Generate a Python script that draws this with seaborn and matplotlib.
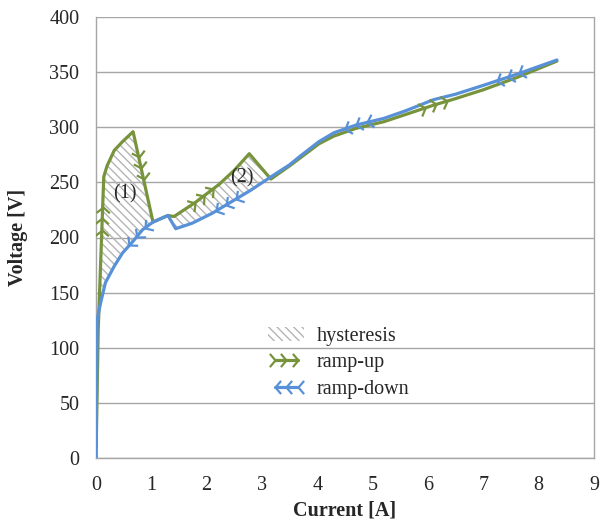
import numpy as np
import pandas as pd
import seaborn as sns
import matplotlib
matplotlib.use("Agg")
import matplotlib.pyplot as plt
from matplotlib.path import Path
from matplotlib.markers import MarkerStyle
from matplotlib.transforms import Affine2D
from matplotlib.lines import Line2D
from matplotlib.patches import Patch

# ---------------- data ----------------
up_current = [0, 0.04, 0.14, 0.20, 0.33, 0.48, 0.67, 1.03, 1.30, 1.41, 1.80, 2.22, 2.50, 2.77, 3.16,
              3.50, 4.03, 4.30, 4.70, 5.20, 6.10, 6.50, 7.00, 7.60, 8.33]
up_voltage = [0, 116, 255, 265, 279, 287, 296, 214, 220, 219, 232, 248, 261, 276, 253,
              265, 285, 292, 299, 305, 320, 326, 334, 345, 360]

down_current = [0, 0.02, 0.08, 0.17, 0.33, 0.48, 0.66, 0.84, 1.03, 1.30, 1.44, 1.74, 2.10, 2.50, 2.80,
                3.13, 3.50, 3.67, 4.03, 4.30, 4.70, 5.20, 5.60, 6.10, 6.50, 7.00, 7.60, 8.33]
down_voltage = [0, 125, 140, 159, 174, 186, 196, 207, 214, 220, 208, 213, 222, 234, 243,
                254, 266, 273, 287, 295, 302, 308, 315, 325, 330, 338, 348, 361]

# chevron group centres (current values along each curve)
up_arrow_at = [0.113, 0.815, 1.95, 6.15]
down_arrow_at = [0.74, 2.35, 4.70, 7.45]

region_labels = ["(1)", "(2)"]
region_label_x = [0.52, 2.64]
region_label_y = [240, 254]

x_ticks = list(range(0, 10))
y_ticks = list(range(0, 401, 50))

GREEN = "#77933C"
BLUE = "#5891D8"
GRID = "#A6A6A6"
HATCH = "#B4B4B4"
FS = 14.5

sns.set_style("white")
plt.rcParams["font.family"] = ["Liberation Serif", "DejaVu Serif"]
plt.rcParams["hatch.linewidth"] = 1.0

fig = plt.figure(figsize=(6.0, 5.23), dpi=100)
ax = fig.add_axes([96 / 600, 65 / 523, 498 / 600, 441 / 523])

ax.set_xlim(0, 9)
ax.set_ylim(0, 400)

up_df = pd.DataFrame({"Current": up_current, "Voltage": up_voltage})
down_df = pd.DataFrame({"Current": down_current, "Voltage": down_voltage})

# hysteresis hatch
grid_x = np.unique(np.concatenate([up_current, down_current]))
g_up = np.interp(grid_x, up_current, up_voltage)
g_dn = np.interp(grid_x, down_current, down_voltage)
ax.fill_between(grid_x, g_dn, g_up, where=g_up > g_dn + 0.5, interpolate=True,
                facecolor="none", edgecolor=HATCH, linewidth=0, hatch="\\\\\\\\", zorder=1)

sns.lineplot(data=up_df, x="Current", y="Voltage", ax=ax, color=GREEN, lw=2.3,
             estimator=None, sort=False, zorder=3)
sns.lineplot(data=down_df, x="Current", y="Voltage", ax=ax, color=BLUE, lw=2.3,
             estimator=None, sort=False, zorder=4)

chev_path = Path([(-0.85, 1.0), (0.0, 0.0), (-0.85, -1.0)],
                 [Path.MOVETO, Path.LINETO, Path.LINETO])


def chevron(angle):
    return MarkerStyle(chev_path, transform=Affine2D().rotate_deg(angle))


def draw_chevrons(xs, ys, centers, color, reverse, spacing=11.5, zorder=5):
    pts = ax.transData.transform(np.column_stack([xs, ys]))
    seg = np.diff(pts, axis=0)
    seglen = np.hypot(seg[:, 0], seg[:, 1])
    cum = np.concatenate([[0], np.cumsum(seglen)])
    xs = np.asarray(xs, float)
    for c in centers:
        i = np.searchsorted(xs, c) - 1
        i = max(0, min(i, len(xs) - 2))
        t = (c - xs[i]) / (xs[i + 1] - xs[i])
        s0 = cum[i] + t * seglen[i]
        for k in (-1, 0, 1):
            s = s0 + k * spacing
            j = np.searchsorted(cum, s) - 1
            j = max(0, min(j, len(seglen) - 1))
            tt = (s - cum[j]) / seglen[j]
            p = pts[j] + tt * seg[j]
            ang = np.degrees(np.arctan2(seg[j, 1], seg[j, 0]))
            if reverse:
                ang += 180
            dx, dy = ax.transData.inverted().transform(p)
            ax.plot([dx], [dy], ls="none", marker=chevron(ang), ms=9.5,
                    mec=color, mfc="none", mew=1.6, zorder=zorder)


draw_chevrons(up_current, up_voltage, up_arrow_at, GREEN, reverse=False)
draw_chevrons(down_current, down_voltage, down_arrow_at, BLUE, reverse=True)

for lab, lx, ly in zip(region_labels, region_label_x, region_label_y):
    ax.text(lx, ly, lab, fontsize=FS, ha="center", va="center", zorder=6)

# axes styling
ax.set_xticks(x_ticks)
ax.set_yticks(y_ticks)
ax.set_xticklabels([str(v) for v in x_ticks], fontsize=FS)
ax.set_yticklabels([str(v) for v in y_ticks], fontsize=FS)
ax.yaxis.grid(True, color=GRID, lw=1.0)
ax.xaxis.grid(False)
ax.set_axisbelow(True)
ax.tick_params(axis="x", direction="in", length=4, width=1, color=GRID, pad=13)
ax.tick_params(axis="y", length=0, pad=12)
for side in ("left", "bottom", "right"):
    ax.spines[side].set_visible(True)
    ax.spines[side].set_color(GRID)
    ax.spines[side].set_linewidth(1.0)
ax.spines["top"].set_visible(False)

ax.set_xlabel("Current [A]", fontsize=FS, fontweight="bold", labelpad=4)
ax.set_ylabel("Voltage [V]", fontsize=FS, fontweight="bold")
ax.yaxis.set_label_coords(-0.137, 0.5)

handles = [
    Patch(facecolor="none", edgecolor=HATCH, linewidth=0, hatch="\\\\\\\\", label="hysteresis"),
    Line2D([], [], color=GREEN, lw=2.3, marker=chevron(0), ms=9.5, mec=GREEN, mfc="none",
           mew=1.6, label="ramp-up"),
    Line2D([], [], color=BLUE, lw=2.3, marker=chevron(180), ms=9.5, mec=BLUE, mfc="none",
           mew=1.6, label="ramp-down"),
]
ax.legend(handles=handles, loc="upper left", bbox_to_anchor=(0.318, 0.33), frameon=False,
          fontsize=FS, numpoints=3, handlelength=1.75, handletextpad=0.65,
          labelspacing=0.38, borderpad=0.2)

fig.savefig("out.png", dpi=100)
